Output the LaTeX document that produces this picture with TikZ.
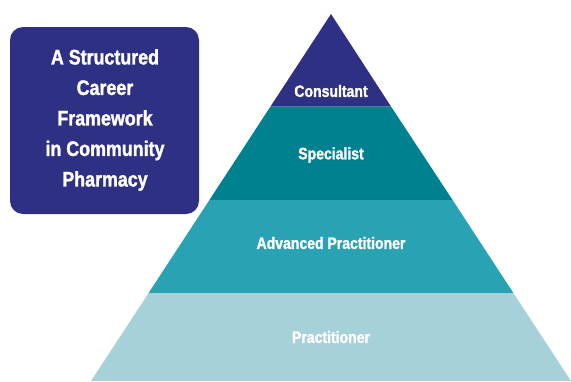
\documentclass[tikz,border=0pt]{standalone}
\usepackage{fontspec}
\setmainfont{Liberation Sans}
\newfontfamily\condfont{Liberation Sans}[FakeStretch=0.85,FakeBold=1.5]
\definecolor{navy}{HTML}{2E3084}
\definecolor{spec}{HTML}{00818F}
\definecolor{adv}{HTML}{29A3B3}
\definecolor{prac}{HTML}{A6D1D8}
\begin{document}
\begin{tikzpicture}[x=1pt,y=-1pt,
  lbl/.style={text=white,font=\condfont\bfseries\fontsize{16.5}{18}\selectfont,inner sep=0pt},
  ttl/.style={text=white,font=\condfont\bfseries\fontsize{21}{30.5}\selectfont,align=center,inner sep=0pt}]
\useasboundingbox (0,0) rectangle (571,381);
% apex (331,14), half-width slope 0.654 per px
\coordinate (apex) at (331,14);
\fill[navy] (331,14) -- (391.0,106.5) -- (270.5,106.5) -- cycle;
\fill[spec] (270.5,106.5) -- (391.0,106.5) -- (452.6,200) -- (209.4,200) -- cycle;
\fill[adv] (209.4,200) -- (452.6,200) -- (513.4,293) -- (148.6,293) -- cycle;
\fill[prac] (148.6,293) -- (513.4,293) -- (571,381) -- (91,381) -- cycle;
\node[lbl] (cons) at (331,91) {Consultant};
\node[lbl] (specl) at (331,155) {Specialist};
\node[lbl] (advl) at (331,243) {Advanced Practitioner};
\node[lbl] (pracl) at (331,337) {Practitioner};
\fill[navy,rounded corners=13pt] (10,27) rectangle (199,214);
\node[ttl] (title) at (105,120) {A Structured\\Career\\Framework\\in Community\\Pharmacy};
\end{tikzpicture}
\end{document}
